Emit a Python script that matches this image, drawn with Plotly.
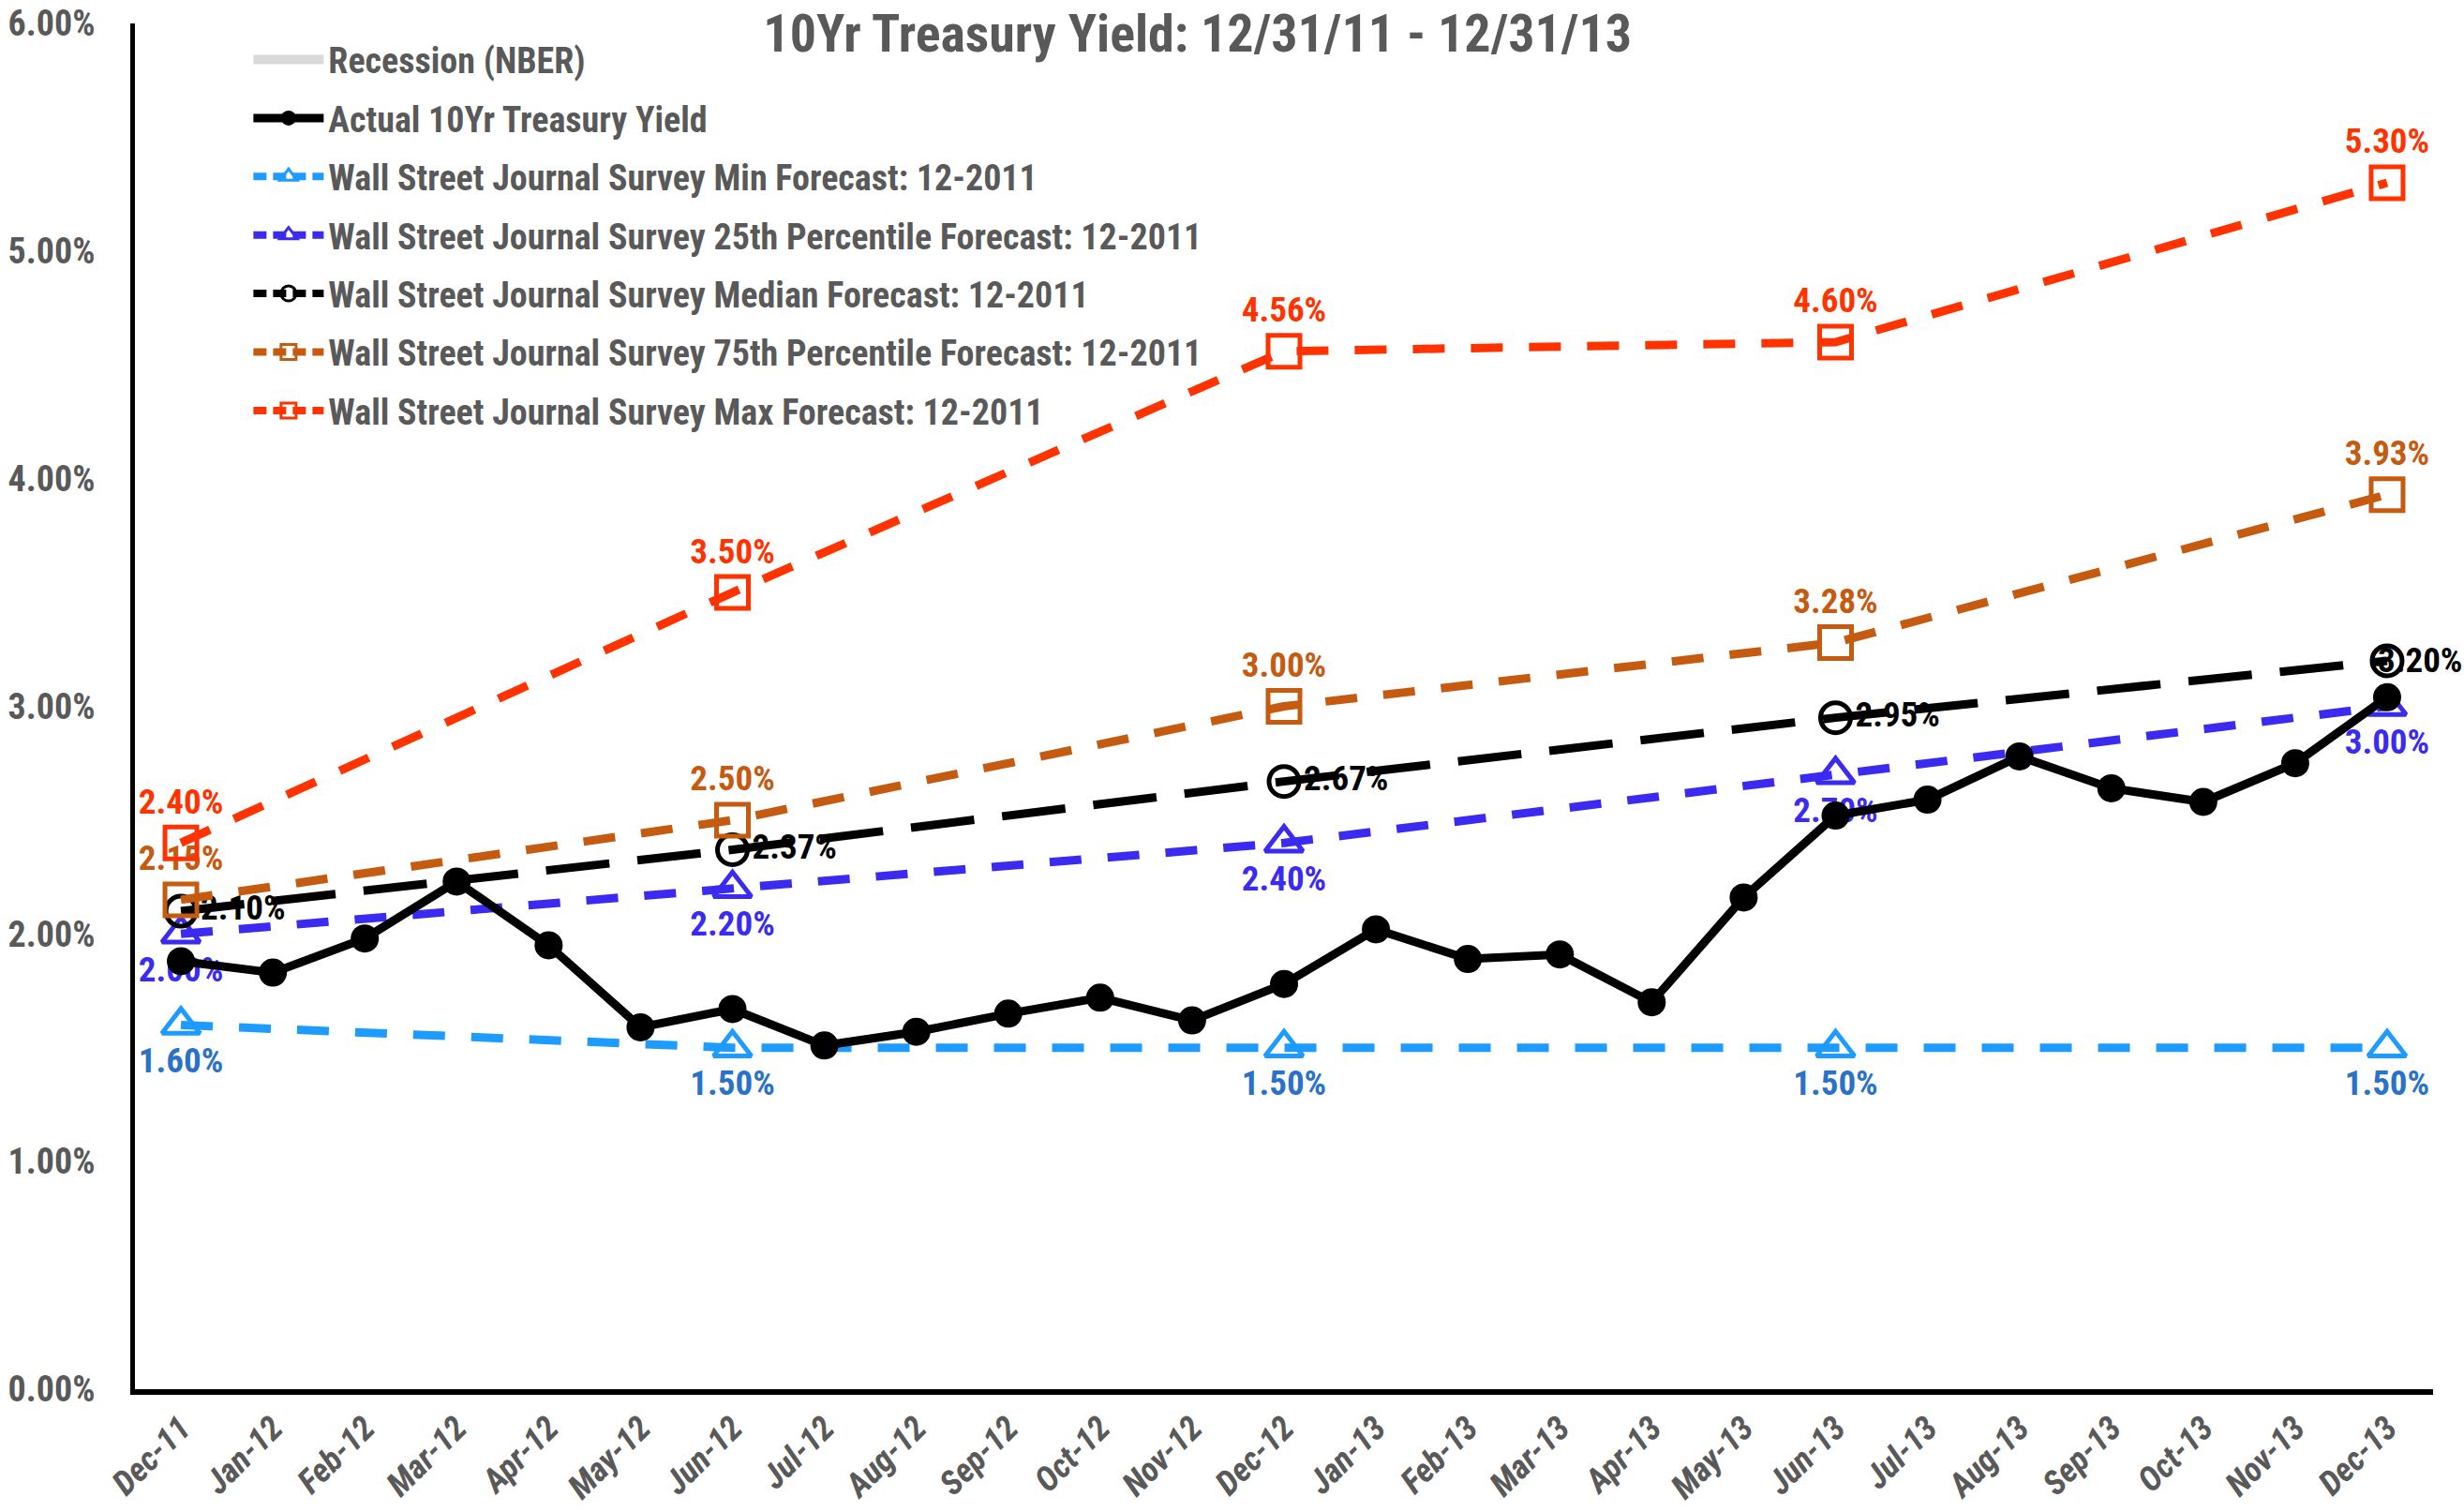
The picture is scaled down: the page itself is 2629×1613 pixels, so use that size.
import plotly.graph_objects as go

months = ["Dec-11", "Jan-12", "Feb-12", "Mar-12", "Apr-12", "May-12", "Jun-12", "Jul-12",
          "Aug-12", "Sep-12", "Oct-12", "Nov-12", "Dec-12", "Jan-13", "Feb-13", "Mar-13",
          "Apr-13", "May-13", "Jun-13", "Jul-13", "Aug-13", "Sep-13", "Oct-13", "Nov-13", "Dec-13"]
actual_yield = [1.88, 1.83, 1.98, 2.23, 1.95, 1.59, 1.67, 1.51, 1.57, 1.65, 1.72, 1.62, 1.78,
                2.02, 1.89, 1.91, 1.70, 2.16, 2.52, 2.59, 2.78, 2.64, 2.58, 2.75, 3.04]

forecast_dates = ["Dec-11", "Jun-12", "Dec-12", "Jun-13", "Dec-13"]
wsj_min = [1.60, 1.50, 1.50, 1.50, 1.50]
wsj_p25 = [2.00, 2.20, 2.40, 2.70, 3.00]
wsj_median = [2.10, 2.37, 2.67, 2.95, 3.20]
wsj_p75 = [2.15, 2.50, 3.00, 3.28, 3.93]
wsj_max = [2.40, 3.50, 4.56, 4.60, 5.30]

FONT = "Liberation Sans Narrow, Roboto Condensed, Arial Narrow, sans-serif"
GRAY = "#595959"
LABEL_SIZE = 37

fig = go.Figure()

def fmt(vals):
    return [f"{v:.2f}%" for v in vals]

# Recession legend entry (no data)
fig.add_trace(go.Scatter(
    x=[None], y=[None], mode="lines",
    line=dict(width=14, color="#d9d9d9"), name="Recession (NBER)",
    legendgroup="g0", legendrank=1, hoverinfo="skip"))

median_text = fmt(wsj_median)
median_text_trace = median_text[:-1] + [""]

series = [
    ("Wall Street Journal Survey Min Forecast: 12-2011", wsj_min, fmt(wsj_min), "#1E9BFF", "#2A72C8",
     "triangle-up-open", 35, "bottom center", "34px,28px", 3),
    ("Wall Street Journal Survey 25th Percentile Forecast: 12-2011", wsj_p25, fmt(wsj_p25), "#3B2BF0", "#3B2BF0",
     "triangle-up-open", 35, "bottom center", "34px,28px", 4),
    ("Wall Street Journal Survey Median Forecast: 12-2011", wsj_median, median_text_trace, "#000000", "#000000",
     "circle-open", 32, "middle right", "68px,30px", 5),
    ("Wall Street Journal Survey 75th Percentile Forecast: 12-2011", wsj_p75, fmt(wsj_p75), "#C55A11", "#C55A11",
     "square-open", 34, "top center", "34px,28px", 6),
    ("Wall Street Journal Survey Max Forecast: 12-2011", wsj_max, fmt(wsj_max), "#FF3300", "#FF3300",
     "square-open", 34, "top center", "34px,28px", 7),
]

for name, vals, txt, col, tcol, sym, msize, tpos, dash, rank in series:
    fig.add_trace(go.Scatter(
        x=forecast_dates, y=vals, mode="lines+markers+text", name=name,
        line=dict(color=col, width=9, dash=dash),
        marker=dict(symbol=sym, size=msize, color=col, line=dict(color=col, width=5)),
        text=txt, textposition=tpos,
        textfont=dict(family=FONT, size=LABEL_SIZE, color=tcol, weight="bold"),
        cliponaxis=False, showlegend=False, legendgroup=f"g{rank}"))
    # legend-only entry with a lighter marker outline so open symbols read as open
    fig.add_trace(go.Scatter(
        x=[None], y=[None], mode="lines+markers", name=name,
        line=dict(color=col, width=8, dash="14px,7px"),
        marker=dict(symbol=sym, size=16, color=col, line=dict(color=col, width=3)),
        legendgroup=f"g{rank}", legendrank=rank, hoverinfo="skip"))

fig.add_trace(go.Scatter(
    x=months, y=actual_yield, mode="lines+markers", name="Actual 10Yr Treasury Yield",
    line=dict(color="#000000", width=9),
    marker=dict(symbol="circle", size=30, color="#000000"),
    cliponaxis=False, legendgroup="g2", legendrank=2))

# last median label sits over the marker (no room on the right)
fig.add_annotation(
    x=forecast_dates[-1], y=wsj_median[-1], text=median_text[-1], showarrow=False,
    xanchor="left", yanchor="middle", xshift=-12,
    font=dict(family=FONT, size=LABEL_SIZE, color="#000000", weight="bold"))

fig.update_layout(
    width=2629, height=1613,
    paper_bgcolor="white", plot_bgcolor="white",
    margin=dict(l=144, r=33, t=25, b=131),
    title=dict(text="<b>10Yr Treasury Yield: 12/31/11 - 12/31/13</b>",
               font=dict(family=FONT, size=56, color=GRAY),
               x=0.486, xanchor="center", xref="container",
               y=0.978, yanchor="middle", yref="container"),
    legend=dict(x=0.0495, y=0.995, xanchor="left", yanchor="top",
                bgcolor="rgba(0,0,0,0)", tracegroupgap=10, itemwidth=75,
                font=dict(family=FONT, size=38, color=GRAY, weight="bold")),
    showlegend=True,
)

fig.update_xaxes(
    type="category", categoryorder="array", categoryarray=months,
    range=[-0.5, 24.5], showgrid=False, zeroline=False, automargin=False,
    showline=True, linecolor="#000000", linewidth=6,
    tickangle=-45, ticks="", ticklabeloverflow="allow",
    tickfont=dict(family=FONT, size=36, color=GRAY, weight="bold", style="italic"),
)
fig.update_yaxes(
    range=[0, 6], dtick=1, tick0=0, showgrid=False, zeroline=False, automargin=False,
    showline=True, linecolor="#000000", linewidth=5,
    tickformat=".2f", ticksuffix="%", ticks="", ticklabelstandoff=30,
    ticklabeloverflow="allow",
    tickfont=dict(family=FONT, size=38, color=GRAY, weight="bold"),
)

fig.write_html("out.html", config={"displayModeBar": False},
               post_script="document.body.style.margin='0';")
